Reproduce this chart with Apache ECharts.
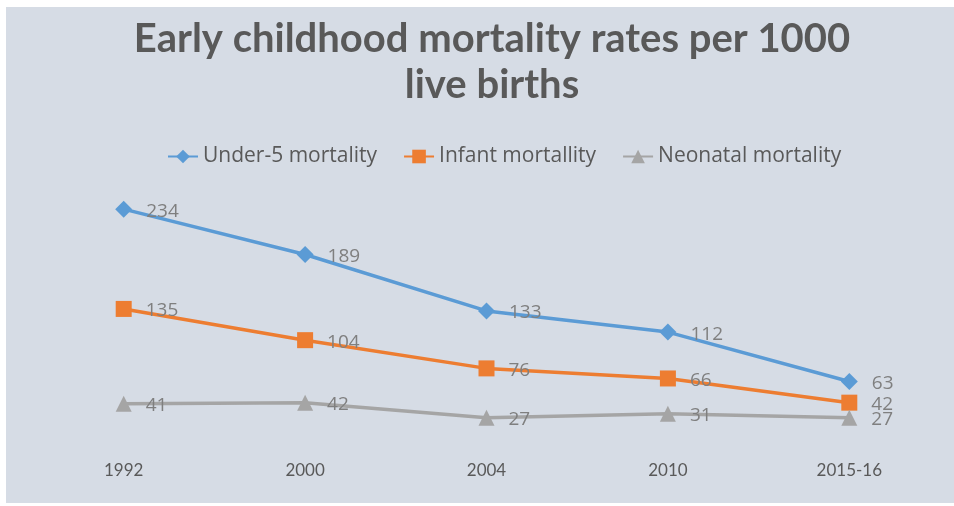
<!DOCTYPE html>
<html>
<head>
<meta charset="utf-8">
<script src="https://cdn.jsdelivr.net/npm/echarts@6/dist/echarts.min.js"></script>
<style>
  html, body { margin: 0; padding: 0; background: #ffffff; }
  #chart { width: 954px; height: 506px; }
</style>
</head>
<body>
<div id="chart"></div>
<script>
// Survey rounds
const years = ['1992', '2000', '2004', '2010', '2015-16'];

// Deaths per 1000 live births
const under5 = [234, 189, 133, 112, 63];
const infant = [135, 104, 76, 66, 42];
const neonatal = [41, 42, 27, 31, 27];

const seriesNames = ['Under-5 mortality', 'Infant mortallity', 'Neonatal mortality'];

const chart = echarts.init(document.getElementById('chart'), null, { renderer: 'canvas' });

const labelStyle = {
  show: true,
  position: 'right',
  distance: 14,
  offset: [0, 2],
  color: '#7f7f7f',
  fontFamily: 'Open Sans',
  fontSize: 19
};

function lineSeries(name, data, color, symbol, size) {
  return {
    name: name,
    type: 'line',
    data: data,
    symbol: symbol,
    symbolSize: size,
    showAllSymbol: true,
    lineStyle: { color: color, width: 3.5 },
    itemStyle: { color: color },
    label: labelStyle,
    emphasis: { disabled: true },
    animation: false
  };
}

chart.setOption({
  backgroundColor: '#ffffff',
  animation: false,
  graphic: [{
    type: 'rect',
    z: -10,
    shape: { x: 6, y: 7, width: 948, height: 496 },
    style: { fill: '#d6dce5' }
  }],
  title: {
    text: 'Early childhood mortality rates per 1000\nlive births',
    left: 487,
    top: 11,
    textAlign: 'center',
    textStyle: {
      fontFamily: 'Lato',
      fontWeight: 'bold',
      fontSize: 40,
      lineHeight: 46,
      color: '#595959'
    }
  },
  legend: {
    data: seriesNames,
    left: 162,
    top: 141,
    itemWidth: 30,
    itemHeight: 17,
    itemGap: 26,
    textStyle: {
      fontFamily: 'Open Sans',
      fontSize: 21,
      color: '#595959'
    }
  },
  grid: { left: 33, right: 14, top: 193, bottom: 61 },
  xAxis: {
    type: 'category',
    data: years,
    boundaryGap: true,
    axisLine: { show: false },
    axisTick: { show: false },
    axisLabel: {
      margin: 17,
      fontFamily: 'Lato',
      fontSize: 17,
      color: '#595959'
    }
  },
  yAxis: {
    type: 'value',
    min: 0,
    max: 250,
    interval: 50,
    show: false,
    splitLine: { show: false }
  },
  series: [
    lineSeries(seriesNames[0], under5, '#5b9bd5', 'diamond', 17),
    lineSeries(seriesNames[1], infant, '#ed7d31', 'rect', 16),
    lineSeries(seriesNames[2], neonatal, '#a5a5a5', 'triangle', 16)
  ]
});
</script>
</body>
</html>
